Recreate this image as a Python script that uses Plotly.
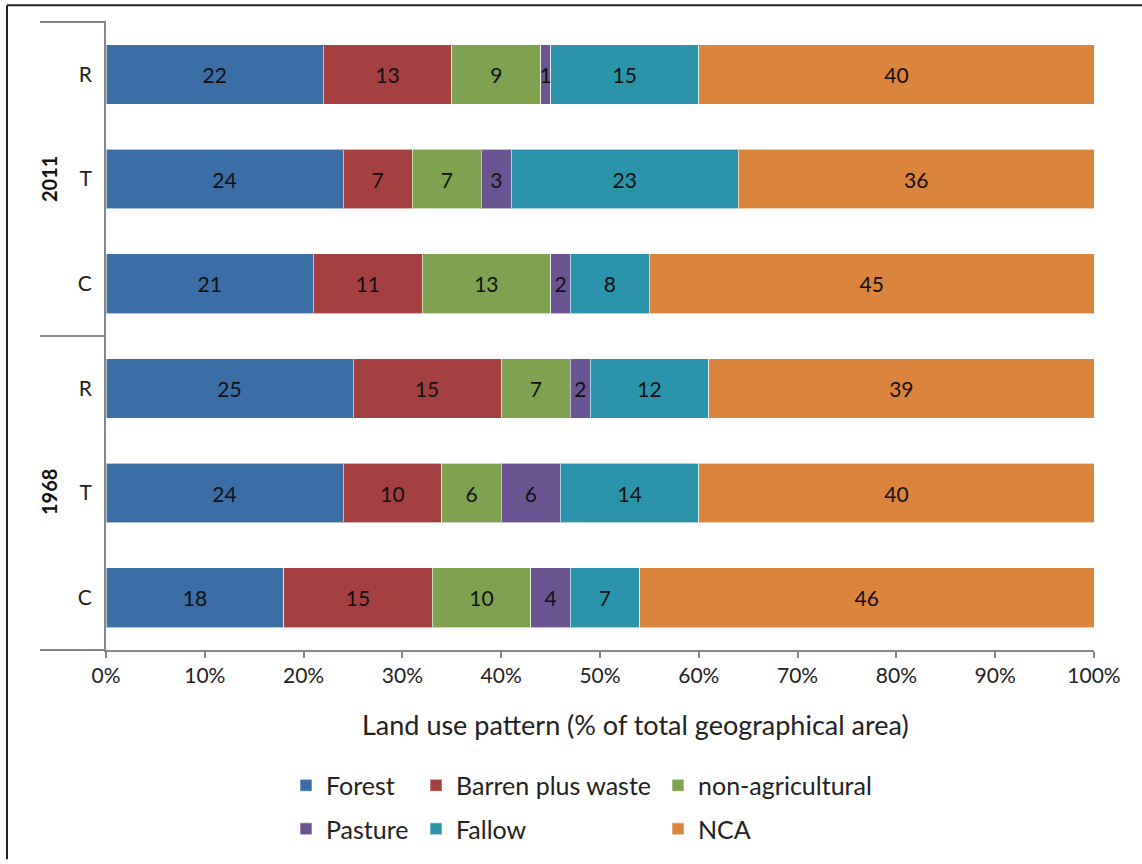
import plotly.graph_objects as go

# ---- data ----
row_keys = ["1968-C", "1968-T", "1968-R", "2011-C", "2011-T", "2011-R"]  # bottom -> top
row_labels = ["C", "T", "R", "C", "T", "R"]
series_names = ["Forest", "Barren plus waste", "non-agricultural", "Pasture", "Fallow", "NCA"]
forest = [18, 24, 25, 21, 24, 22]
barren = [15, 10, 15, 11, 7, 13]
nonagri = [10, 6, 7, 13, 7, 9]
pasture = [4, 6, 2, 2, 3, 1]
fallow = [7, 14, 12, 8, 23, 15]
nca = [46, 40, 39, 45, 36, 40]
x_ticks = [0, 10, 20, 30, 40, 50, 60, 70, 80, 90, 100]
x_tick_labels = ["0%", "10%", "20%", "30%", "40%", "50%", "60%", "70%", "80%", "90%", "100%"]
years = ["2011", "1968"]

colors = ["#3A6EA5", "#A4403F", "#7FA250", "#6A5592", "#2C94AA", "#DB843D"]
legend_ids = ["legend", "legend2", "legend3", "legend", "legend2", "legend3"]
series = [forest, barren, nonagri, pasture, fallow, nca]

FONT = "Lato"
GRAY = "#878787"

fig = go.Figure()
for name, vals, col, lg in zip(series_names, series, colors, legend_ids):
    fig.add_trace(go.Bar(
        y=row_keys, x=vals, orientation="h", name=name,
        marker=dict(color=col, line=dict(color="rgba(255,255,255,0.6)", width=1)),
        text=[str(v) for v in vals], textposition="inside", insidetextanchor="middle",
        textangle=0, constraintext="none",
        textfont=dict(family=FONT, size=21, color="#111111"),
        legend=lg, legendgroup=name, hoverinfo="x+y+name",
    ))

W, H = 1142, 864
L, R, T, B = 106, 48, 22, 206
pw, ph = W - L - R, H - T - B

def px_x(x):
    return (x - L) / pw

def px_y(y):
    return (H - B - y) / ph

shapes = []
# group separators on the category axis
for yy in [22, 340, 658]:
    shapes.append(dict(type="line", xref="paper", yref="paper",
                       x0=px_x(40), x1=0, y0=px_y(yy), y1=px_y(yy),
                       line=dict(color=GRAY, width=2)))
# outer frame (left + top)
shapes.append(dict(type="line", xref="paper", yref="paper", x0=px_x(7), x1=px_x(7),
                   y0=px_y(5), y1=px_y(870), line=dict(color="#222222", width=2)))
shapes.append(dict(type="line", xref="paper", yref="paper", x0=px_x(7), x1=px_x(1150),
                   y0=px_y(5), y1=px_y(5), line=dict(color="#222222", width=2)))

annotations = []
for yr, yc in zip(years, [181, 498]):
    annotations.append(dict(text="<b>" + yr + "</b>", xref="paper", yref="paper",
                            x=px_x(49), y=px_y(yc), xanchor="center", yanchor="middle",
                            textangle=-90, showarrow=False,
                            font=dict(family=FONT, size=20, color="#111111")))
annotations.append(dict(text="Land use pattern (% of total geographical area)",
                        xref="paper", yref="paper", x=px_x(635), y=px_y(733),
                        xanchor="center", yanchor="middle", showarrow=False,
                        font=dict(family=FONT, size=27, color="#222222")))

legend_common = dict(orientation="v", xanchor="left", yanchor="top", traceorder="grouped",
                     tracegroupgap=8, font=dict(family=FONT, size=25, color="#222222"),
                     bgcolor="rgba(0,0,0,0)", y=px_y(772))

fig.update_layout(
    width=W, height=H,
    margin=dict(l=L, r=R, t=T, b=B),
    paper_bgcolor="white", plot_bgcolor="white",
    barmode="stack", bargap=0.43,
    font=dict(family=FONT, color="#222222"),
    shapes=shapes, annotations=annotations,
    showlegend=True,
    legend=dict(x=px_x(286), **legend_common),
    legend2=dict(x=px_x(416), **legend_common),
    legend3=dict(x=px_x(658), **legend_common),
    xaxis=dict(range=[0, 100], tickvals=x_ticks, ticktext=x_tick_labels, showgrid=False,
               zeroline=False, showline=True, linecolor=GRAY, linewidth=2,
               ticks="outside", ticklen=6, tickwidth=2, tickcolor=GRAY,
               tickfont=dict(family=FONT, size=21, color="#222222")),
    yaxis=dict(type="category", categoryorder="array", categoryarray=row_keys,
               tickvals=row_keys, ticktext=row_labels, range=[-0.5, 5.5],
               showgrid=False, zeroline=False, showline=True, linecolor=GRAY, linewidth=2,
               ticks="", ticklabelstandoff=8,
               tickfont=dict(family=FONT, size=21, color="#222222")),
)

fig.write_html("out.html")
